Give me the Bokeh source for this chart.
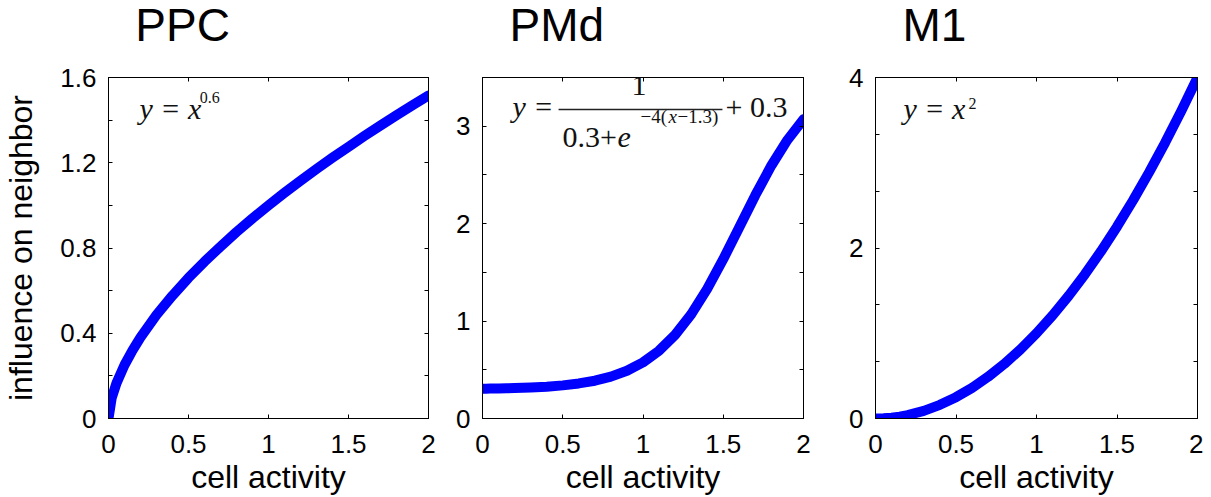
from bokeh.plotting import figure
from bokeh.layouts import row, column
from bokeh.models import Range1d, FixedTicker, LinearAxis, Label, Arrow, CustomJSTickFormatter
from bokeh.embed import file_html
from bokeh.resources import INLINE

# ---- data ----
activity = [0, 0.02, 0.05, 0.1, 0.15, 0.2, 0.3, 0.4, 0.5, 0.6, 0.7, 0.8, 0.9,
            1.0, 1.1, 1.2, 1.3, 1.4, 1.5, 1.6, 1.7, 1.8, 1.9, 2.0]
ppc_influence = [0, 0.096, 0.166, 0.251, 0.320, 0.381, 0.486, 0.577, 0.660, 0.736,
                 0.807, 0.875, 0.939, 1.0, 1.059, 1.116, 1.171, 1.224, 1.275, 1.326,
                 1.375, 1.423, 1.470, 1.516]
pmd_influence = [0.305, 0.306, 0.307, 0.308, 0.310, 0.312, 0.318, 0.327, 0.340, 0.360,
                 0.388, 0.430, 0.490, 0.576, 0.696, 0.858, 1.069, 1.331, 1.635, 1.964,
                 2.292, 2.597, 2.859, 3.072]
m1_influence = [0, 0.0004, 0.0025, 0.01, 0.0225, 0.04, 0.09, 0.16, 0.25, 0.36, 0.49,
                0.64, 0.81, 1.0, 1.21, 1.44, 1.69, 1.96, 2.25, 2.56, 2.89, 3.24, 3.61, 4.0]

titles = ["PPC", "PMd", "M1"]
x_ticks = [0, 0.5, 1, 1.5, 2]
ppc_yticks = [0, 0.4, 0.8, 1.2, 1.6]
ppc_yminor = [0.2, 0.6, 1.0, 1.4]
pmd_yticks = [0, 1, 2, 3]
pmd_yminor = [0.5, 1.5, 2.5, 3.5]
m1_yticks = [0, 2, 4]
m1_yminor = [2 / 3, 4 / 3, 8 / 3, 10 / 3]
x_label = "cell activity"
y_label = "influence on neighbor"

SANS = "Liberation Sans"
SERIF = "Liberation Serif"
BLUE = "#0000ff"

HEAD = 55          # height of the strip holding the panel title
FRAME_H = 341
TOP = 22
BOTTOM = 79


def title_strip(text, left, frame_w, right):
    w = left + frame_w + right
    # the strip's frame is aligned with the panel frame below it
    t = figure(width=w, height=HEAD, output_backend="svg", toolbar_location=None,
               x_range=Range1d(0, frame_w), y_range=Range1d(0, HEAD),
               x_axis_location=None, y_axis_location=None,
               min_border_left=left, min_border_right=right,
               min_border_top=0, min_border_bottom=0)
    t.xgrid.visible = False
    t.ygrid.visible = False
    t.outline_line_color = None
    t.background_fill_color = "white"
    t.border_fill_color = "white"
    t.add_layout(Label(x=27, y=30.5, text=text, text_font=SANS,
                       text_font_size="46px", text_color="black",
                       text_baseline="alphabetic", text_align="left"))
    return t


def make_panel(yvals, ymax, yticks, yminor, left, frame_w, right, ylab=None):
    p = figure(width=left + frame_w + right, height=TOP + FRAME_H + BOTTOM,
               output_backend="svg", toolbar_location=None,
               x_range=Range1d(0, 2), y_range=Range1d(0, ymax),
               x_axis_location=None, y_axis_location=None,
               min_border_left=left, min_border_right=right,
               min_border_top=TOP, min_border_bottom=BOTTOM)
    p.xgrid.visible = False
    p.ygrid.visible = False
    p.outline_line_color = "black"
    p.outline_line_width = 1
    p.background_fill_color = "white"
    p.border_fill_color = "white"

    def style(ax, show):
        ax.axis_line_color = "black"
        ax.major_tick_line_color = "black"
        ax.minor_tick_line_color = "black"
        ax.major_tick_in = 4
        ax.major_tick_out = 0
        ax.minor_tick_in = 4
        ax.minor_tick_out = 0
        if show:
            ax.formatter = CustomJSTickFormatter(code="return String(tick)")
            ax.major_label_text_font = SANS
            ax.major_label_text_font_size = "26px"
            ax.major_label_text_color = "black"
        else:
            ax.formatter = CustomJSTickFormatter(code="return ''")
            ax.major_label_standoff = 0

    xt = FixedTicker(ticks=x_ticks)
    yt = FixedTicker(ticks=yticks, minor_ticks=yminor)

    bx = LinearAxis(ticker=xt)
    style(bx, True)
    bx.major_label_standoff = 16
    bx.axis_label = x_label
    bx.axis_label_text_font = SANS
    bx.axis_label_text_font_size = "32px"
    bx.axis_label_text_font_style = "normal"
    bx.axis_label_text_color = "black"
    bx.axis_label_standoff = 3
    p.add_layout(bx, "below")

    ly = LinearAxis(ticker=yt)
    style(ly, True)
    ly.major_label_standoff = 12
    if ylab:
        ly.axis_label = ylab
        ly.axis_label_text_font = SANS
        ly.axis_label_text_font_size = "32px"
        ly.axis_label_text_font_style = "normal"
        ly.axis_label_text_color = "black"
        ly.axis_label_standoff = 18
    p.add_layout(ly, "left")

    tx = LinearAxis(ticker=xt)
    style(tx, False)
    p.add_layout(tx, "above")
    ry = LinearAxis(ticker=yt)
    style(ry, False)
    p.add_layout(ry, "right")

    p.line(activity, yvals, line_color=BLUE, line_width=10,
           line_cap="round", line_join="round")
    return p


def lab(p, x, y, text, size, font=SERIF, style="normal", align="left", color="#111111"):
    p.add_layout(Label(x=x, y=y, text=text, text_font=font, text_font_size=size,
                       text_font_style=style, text_align=align,
                       text_baseline="alphabetic", text_color=color))


dims = [(106, 322, 14), (40, 321, 14), (58, 322, 6)]
p1 = make_panel(ppc_influence, 1.6, ppc_yticks, ppc_yminor, *dims[0], ylab=y_label)
p2 = make_panel(pmd_influence, 3.5, pmd_yticks, pmd_yminor, *dims[1])
p3 = make_panel(m1_influence, 4.0, m1_yticks, m1_yminor, *dims[2])

# formulas
lab(p1, 0.193, 1.454, "y = x", "30px", style="italic")
lab(p1, 0.571, 1.505, "0.6", "16px")

lab(p3, 0.174, 3.637, "y = x", "30px", style="italic")
lab(p3, 0.578, 3.690, "2", "16px")

lab(p2, 0.187, 3.202, "y =", "30px", style="italic")
lab(p2, 0.975, 3.418, "1", "30px", align="center")
p2.add_layout(Arrow(x_start=0.474, y_start=3.171, x_end=1.495, y_end=3.171,
                    end=None, start=None, line_color="#222222", line_width=1.4))
lab(p2, 0.498, 2.884, "0.3+", "30px")
lab(p2, 0.841, 2.884, "e", "30px", style="italic")
lab(p2, 0.984, 3.095, "\u22124(", "19px")
lab(p2, 1.159, 3.095, "x", "19px", style="italic")
lab(p2, 1.215, 3.095, "\u22121.3)", "19px")
lab(p2, 1.514, 3.202, "+ 0.3", "30px")

cols = [column(title_strip(titles[i], *dims[i]), pp, spacing=0)
        for i, pp in enumerate([p1, p2, p3])]
layout = row(*cols, spacing=0)
open("out.html", "w").write(file_html(layout, INLINE))
